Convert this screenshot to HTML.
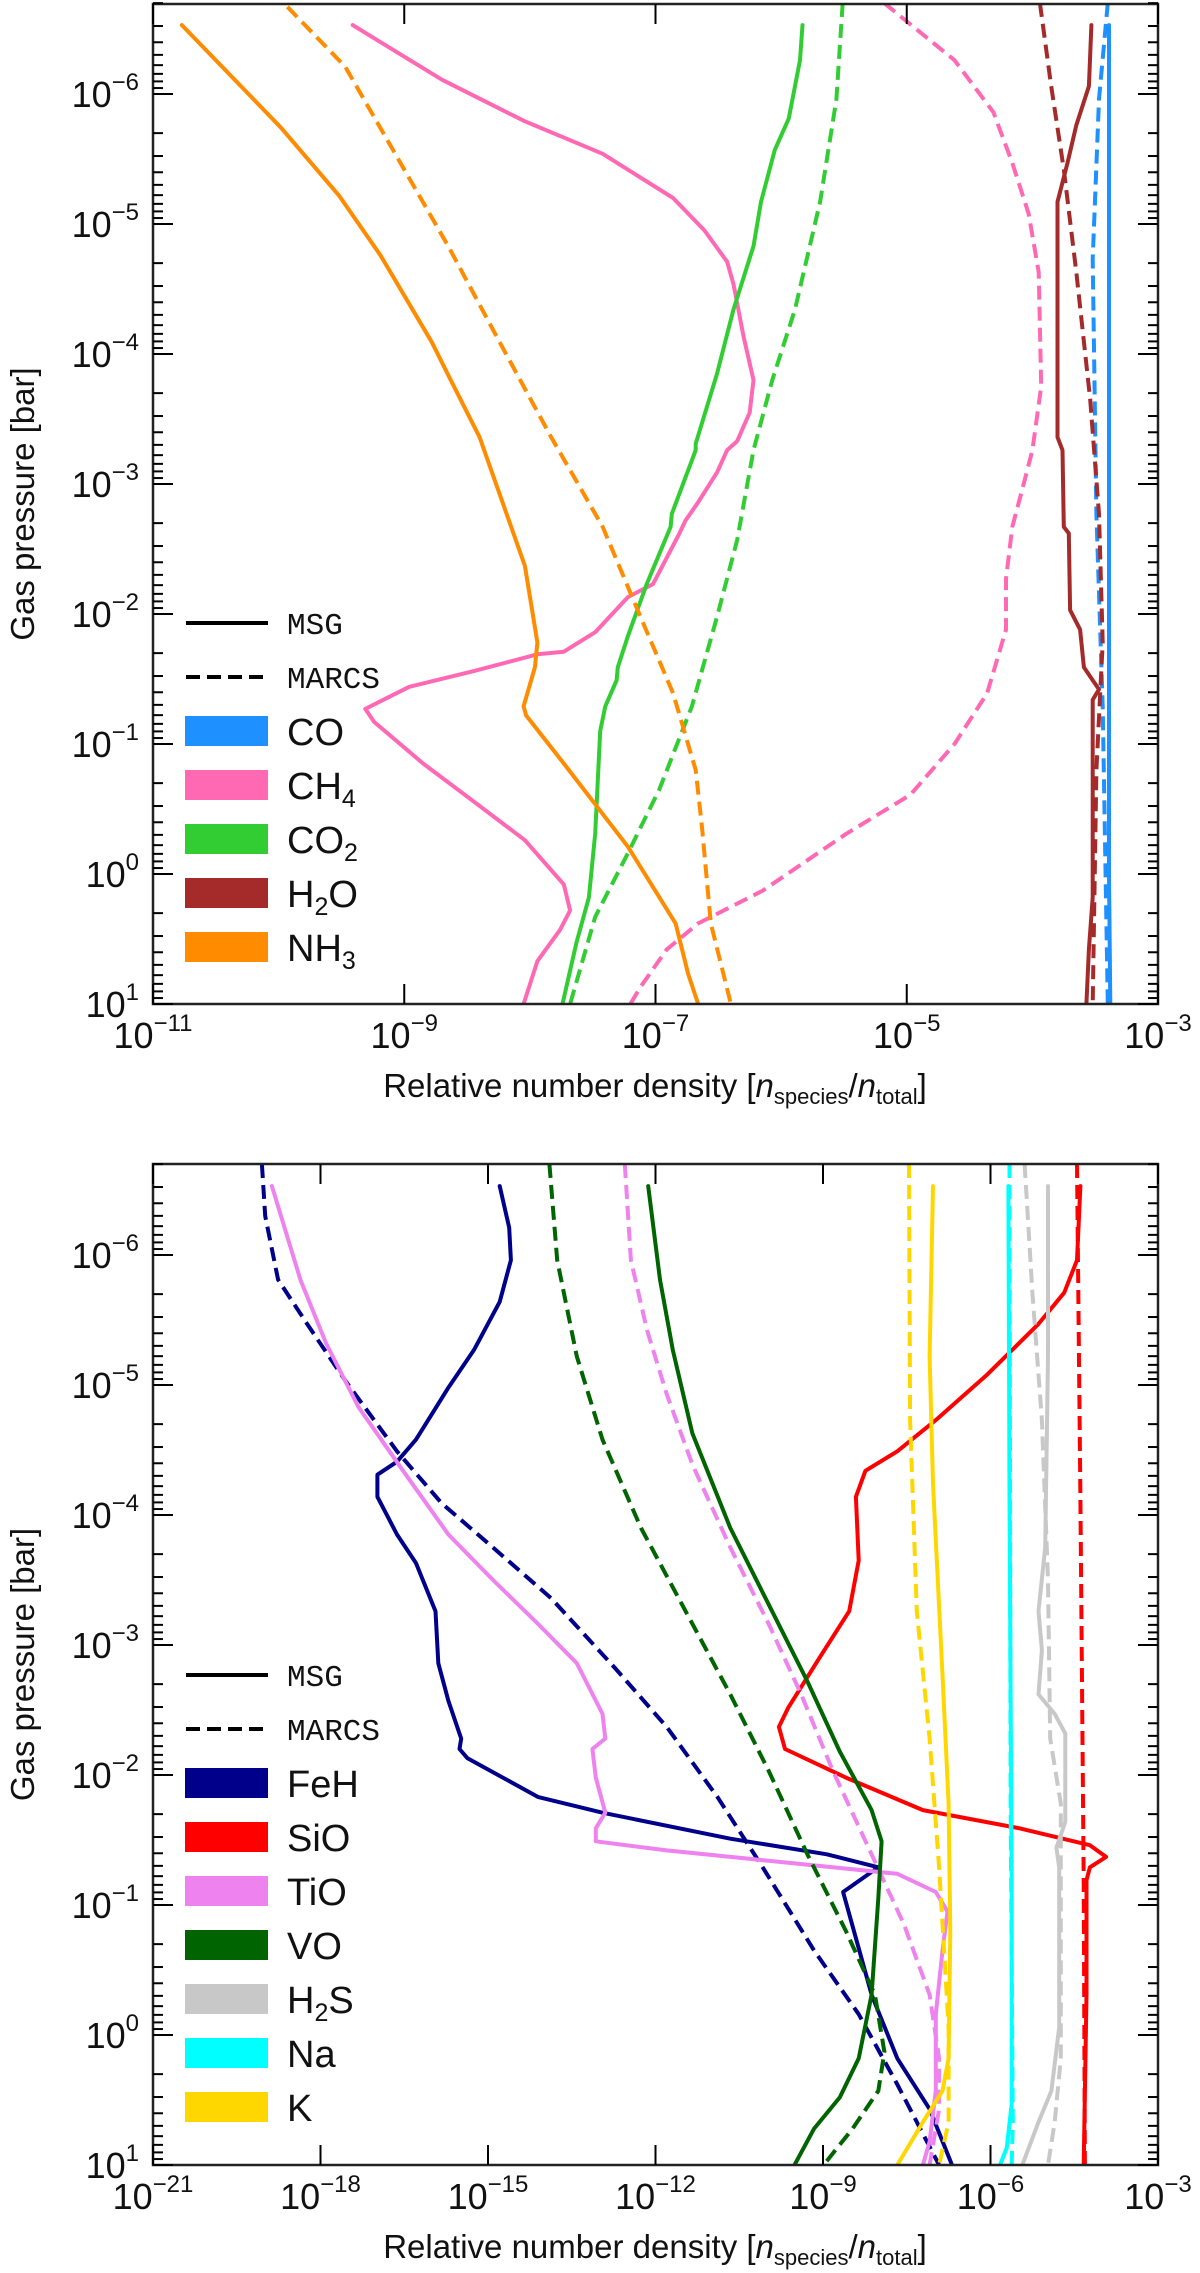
<!DOCTYPE html>
<html><head><meta charset="utf-8"><title>Relative number density profiles: MSG vs MARCS</title>
<style>
html,body{margin:0;padding:0;background:#fff;}
svg{display:block;font-family:"Liberation Sans",sans-serif;}
.tick{stroke:#000;stroke-width:2;}
.lbl{font-size:36px;fill:#111;}
.mono{font-family:"Liberation Mono",monospace;font-size:31px;fill:#111;}
</style></head>
<body>
<svg id="fig" width="1200" height="2273" viewBox="0 0 1200 2273" xmlns="http://www.w3.org/2000/svg"></svg>
<script>
// ===== Data (log10 relative number density, log10 gas pressure in bar) =====
// --- Top panel ---
const coMsgX=[-3.39,-3.39,-3.39,-3.38];
const coMsgP=[-6.53,-3,0,1];
const coMarcsX=[-3.40,-3.47,-3.52,-3.49,-3.44,-3.40];
const coMarcsP=[-6.7,-5.96,-4.73,-2.77,-1.29,1.0];
const ch4MsgX=[-9.41,-8.70,-8.04,-7.42,-6.86,-6.61,-6.43,-6.38,-6.30,-6.22,-6.25,-6.35,-6.43,-6.51,-6.66,-6.76,-6.81,-7.02,-7.22,-7.48,-7.73,-7.94,-8.45,-8.96,-9.31,-9.24,-8.85,-8.45,-8.04,-7.73,-7.68,-7.76,-7.94,-8.05];
const ch4MsgP=[-6.53,-6.11,-5.79,-5.54,-5.20,-4.95,-4.71,-4.54,-4.14,-3.80,-3.55,-3.33,-3.26,-3.09,-2.86,-2.72,-2.62,-2.23,-2.13,-1.86,-1.71,-1.69,-1.56,-1.44,-1.27,-1.17,-0.85,-0.56,-0.26,0.08,0.28,0.43,0.67,1.0];
const ch4MarcsX=[-5.18,-4.62,-4.31,-4.16,-4.03,-3.95,-3.93,-4.00,-4.08,-4.16,-4.21,-4.21,-4.36,-4.62,-4.97,-5.48,-6.15,-6.66,-6.91,-7.12,-7.20];
const ch4MarcsP=[-6.70,-6.26,-5.86,-5.47,-5.08,-4.63,-3.75,-3.26,-2.96,-2.67,-2.27,-1.88,-1.39,-1.00,-0.61,-0.31,0.13,0.38,0.58,0.87,1.0];
const co2MsgX=[-5.83,-5.85,-5.94,-6.05,-6.16,-6.22,-6.38,-6.51,-6.68,-6.68,-6.87,-6.88,-7.07,-7.22,-7.30,-7.31,-7.40,-7.44,-7.48,-7.53,-7.63,-7.74];
const co2MsgP=[-6.53,-6.26,-5.81,-5.57,-5.17,-4.83,-4.34,-3.85,-3.31,-3.26,-2.77,-2.67,-2.23,-1.83,-1.59,-1.49,-1.29,-1.10,-0.31,0.18,0.53,1.0];
const co2MarcsX=[-5.51,-5.56,-5.69,-5.89,-6.07,-6.22,-6.35,-6.51,-6.71,-6.97,-7.22,-7.48,-7.68];
const co2MarcsP=[-6.70,-5.96,-5.17,-4.34,-3.80,-3.26,-2.57,-1.98,-1.29,-0.65,-0.16,0.33,1.0];
const h2oMsgX=[-3.53,-3.55,-3.65,-3.72,-3.80,-3.80,-3.76,-3.75,-3.71,-3.70,-3.62,-3.59,-3.52,-3.47,-3.52,-3.52,-3.55,-3.57];
const h2oMsgP=[-6.53,-6.06,-5.76,-5.47,-5.17,-3.36,-3.26,-2.67,-2.62,-2.03,-1.88,-1.59,-1.49,-1.42,-1.34,0.18,0.58,1.0];
const h2oMarcsX=[-3.94,-3.85,-3.75,-3.65,-3.54,-3.47,-3.44,-3.49,-3.52];
const h2oMarcsP=[-6.70,-6.06,-5.42,-4.63,-3.65,-2.77,-1.78,-0.80,1.0];
const nh3MsgX=[-10.77,-9.98,-9.52,-9.19,-8.78,-8.63,-8.40,-8.04,-7.94,-7.96,-8.05,-8.03,-7.73,-7.22,-6.84,-6.74,-6.66];
const nh3MsgP=[-6.53,-5.74,-5.22,-4.76,-4.09,-3.80,-3.36,-2.37,-1.78,-1.59,-1.29,-1.22,-0.85,-0.21,0.38,0.77,1.0];
const nh3MarcsX=[-9.93,-9.47,-9.06,-8.65,-8.24,-7.83,-7.42,-7.12,-6.86,-6.68,-6.63,-6.56,-6.40];
const nh3MarcsP=[-6.67,-6.21,-5.52,-4.83,-4.09,-3.36,-2.67,-1.98,-1.39,-0.80,-0.36,0.38,1.0];
// --- Bottom panel ---
const fehMsgX=[-14.79,-14.62,-14.59,-14.79,-15.25,-15.71,-16.29,-16.63,-16.98,-16.98,-16.63,-16.29,-15.94,-15.89,-15.71,-15.48,-15.51,-15.37,-14.10,-12.95,-10.66,-8.93,-8.01,-8.64,-8.13,-7.67,-7.09,-6.69];
const fehMsgP=[-6.53,-6.21,-5.96,-5.64,-5.27,-4.98,-4.58,-4.41,-4.31,-4.14,-3.85,-3.63,-3.26,-2.86,-2.57,-2.28,-2.20,-2.13,-1.83,-1.71,-1.51,-1.39,-1.29,-1.10,-0.31,0.18,0.57,1.0];
const fehMarcsX=[-19.05,-18.99,-18.76,-18.24,-17.55,-16.63,-15.83,-14.91,-13.87,-12.72,-11.80,-10.89,-10.08,-9.16,-8.36,-7.67,-6.92];
const fehMarcsP=[-6.70,-6.30,-5.81,-5.47,-5.03,-4.49,-4.09,-3.75,-3.36,-2.82,-2.37,-1.83,-1.29,-0.65,-0.16,0.38,1.0];
const sioMsgX=[-4.39,-4.45,-4.68,-5.14,-6.06,-6.98,-7.67,-8.24,-8.41,-8.36,-8.53,-9.05,-9.62,-9.79,-9.68,-8.59,-7.21,-5.48,-4.22,-3.93,-4.22,-4.28,-4.28,-4.33];
const sioMsgP=[-6.53,-5.96,-5.71,-5.47,-5.08,-4.73,-4.49,-4.34,-4.14,-3.65,-3.26,-2.91,-2.52,-2.37,-2.20,-1.98,-1.73,-1.59,-1.46,-1.37,-1.29,-1.19,-0.31,1.0];
const sioMarcsX=[-4.45,-4.39,-4.33,-4.31];
const sioMarcsP=[-6.70,-4.14,-1.19,1.0];
const tioMsgX=[-18.87,-18.36,-17.90,-17.32,-16.52,-15.71,-14.91,-14.10,-13.41,-12.95,-12.90,-13.13,-13.07,-12.90,-13.07,-13.07,-11.80,-9.51,-7.67,-6.98,-6.77,-6.86,-6.98,-6.98,-7.09,-7.21];
const tioMsgP=[-6.53,-5.81,-5.32,-4.83,-4.34,-3.85,-3.50,-3.16,-2.86,-2.47,-2.28,-2.20,-1.98,-1.71,-1.59,-1.49,-1.42,-1.32,-1.24,-1.10,-0.95,-0.65,-0.16,0.43,0.82,1.0];
const tioMarcsX=[-12.55,-12.44,-12.15,-11.80,-11.34,-10.66,-9.97,-9.39,-8.82,-8.13,-7.55,-7.09,-6.92,-6.92,-7.09];
const tioMarcsP=[-6.70,-5.96,-5.42,-4.93,-4.39,-3.75,-3.16,-2.62,-2.03,-1.39,-0.85,-0.31,0.18,0.57,1.0];
const voMsgX=[-12.13,-11.92,-11.69,-11.34,-10.66,-9.97,-9.28,-8.70,-8.13,-7.95,-8.01,-8.13,-8.36,-8.70,-9.16,-9.51];
const voMsgP=[-6.53,-5.81,-5.27,-4.63,-3.90,-3.31,-2.72,-2.18,-1.73,-1.49,-1.05,-0.31,0.18,0.48,0.72,1.0];
const voMarcsX=[-13.90,-13.76,-13.41,-12.95,-12.26,-11.46,-10.66,-9.97,-9.28,-8.59,-8.07,-7.90,-8.01,-8.47,-8.99];
const voMarcsP=[-6.70,-5.96,-5.22,-4.58,-3.90,-3.26,-2.62,-2.03,-1.39,-0.80,-0.31,0.13,0.43,0.72,1.0];
const h2sMsgX=[-4.97,-4.97,-5.02,-5.14,-5.08,-5.14,-4.85,-4.66,-4.66,-4.82,-4.77,-4.77,-4.91,-5.14,-5.43];
const h2sMsgP=[-6.53,-5.22,-3.75,-3.26,-2.96,-2.62,-2.47,-2.32,-1.64,-1.44,-1.29,-0.06,0.43,0.67,1.0];
const h2sMarcsX=[-5.39,-5.25,-5.08,-4.97,-4.93,-4.74,-4.74,-4.85,-4.97];
const h2sMarcsP=[-6.70,-5.71,-4.73,-3.50,-2.28,-1.78,0.18,0.67,1.0];
const naMsgX=[-5.68,-5.66,-5.62,-5.62,-5.71,-5.83];
const naMsgP=[-6.53,-4.14,-1.19,0.53,0.87,1.0];
const naMarcsX=[-5.66,-5.64,-5.60,-5.62];
const naMarcsP=[-6.70,-1.78,0.67,1.0];
const kMsgX=[-7.03,-7.09,-7.03,-6.86,-6.75,-6.72,-6.75,-6.86,-7.21,-7.67];
const kMsgP=[-6.53,-5.22,-4.24,-2.77,-1.78,-0.80,0.18,0.43,0.67,1.0];
const kMarcsX=[-7.46,-7.44,-7.32,-7.09,-6.92,-6.75,-6.75,-6.92];
const kMarcsP=[-6.70,-4.73,-3.26,-2.28,-1.29,-0.06,0.67,1.0];
// Axis tick labels (exponents)
const topXTicks=[-11,-9,-7,-5,-3];
const botXTicks=[-21,-18,-15,-12,-9,-6,-3];
const yTicks=[-6,-5,-4,-3,-2,-1,0,1];

const NS="http://www.w3.org/2000/svg";
const svg=document.getElementById('fig');
function mk(tag,attrs,parent){const e=document.createElementNS(NS,tag);for(const k in attrs)e.setAttribute(k,attrs[k]);(parent||svg).appendChild(e);return e;}

function panel(cfg){
  const g=mk('g',{});
  
  
  const X=v=>cfg.x0+(v-cfg.xmin)/(cfg.xmax-cfg.xmin)*(cfg.x1-cfg.x0);
  const Y=p=>cfg.y1-(1-p)*130;
  const cid='clip'+cfg.id;
  const cp=mk('clipPath',{id:cid},g);
  mk('rect',{x:cfg.x0,y:cfg.y0,width:cfg.x1-cfg.x0,height:cfg.y1-cfg.y0},cp);
  const lines=mk('g',{'clip-path':'url(#'+cid+')'},g);
  cfg.series.forEach(s=>{
    const d=s.x.map((v,i)=>(i?'L':'M')+X(v).toFixed(1)+' '+Y(s.p[i]).toFixed(1)).join(' ');
    const path=mk('path',{d:d,fill:'none',stroke:s.color,'stroke-width':4,'stroke-linejoin':'round','stroke-linecap':s.dash?'butt':'round'},lines);
    if(s.dash)path.setAttribute('stroke-dasharray','14 7');
    
    
  });
  const fr=mk('rect',{x:cfg.x0,y:cfg.y0,width:cfg.x1-cfg.x0,height:cfg.y1-cfg.y0,fill:'none',stroke:'#222','stroke-width':2.5},g);
  
  
  const yt=mk('g',{},g);
  
  
  for(let dcd=-7;dcd<=1;dcd++){
    for(let m=1;m<10;m++){
      const p=dcd+Math.log10(m);
      if(p<cfg.pTop||p>1.0001)continue;
      if(m>1&&dcd===1)continue;
      const y=Y(p), L=m===1?20:10;
      mk('line',{x1:cfg.x0,x2:cfg.x0+L,y1:y,y2:y,class:'tick'},yt);
      mk('line',{x1:cfg.x1,x2:cfg.x1-L,y1:y,y2:y,class:'tick'},yt);
    }
  }
  yTicks.forEach(t=>{
    const tx=mk('text',{x:cfg.x0-14,y:Y(t)+13,'text-anchor':'end',class:'lbl'},g);
    
    
    tx.appendChild(document.createTextNode('10'));
    const sp=mk('tspan',{dy:-17,'font-size':24},tx);
    sp.textContent=(t<0?'\u2212':'')+Math.abs(t);
  });
  cfg.xTicks.forEach(t=>{
    const x=X(t);
    mk('line',{x1:x,x2:x,y1:cfg.y1,y2:cfg.y1-20,class:'tick'},g);
    mk('line',{x1:x,x2:x,y1:cfg.y0,y2:cfg.y0+20,class:'tick'},g);
    const tx=mk('text',{x:x,y:cfg.y1+44,'text-anchor':'middle',class:'lbl'},g);
    
    
    tx.appendChild(document.createTextNode('10'));
    const sp=mk('tspan',{dy:-17,'font-size':24},tx);
    sp.textContent=(t<0?'\u2212':'')+Math.abs(t);
  });
  const xt=mk('text',{x:655,y:cfg.y1+93,'text-anchor':'middle','font-size':33,fill:'#111'},g);
  
  
  xt.innerHTML='Relative number density [<tspan font-style="italic">n</tspan><tspan font-size="22" dy="7">species</tspan><tspan dy="-7">/</tspan><tspan font-style="italic">n</tspan><tspan font-size="22" dy="7">total</tspan><tspan dy="-7">]</tspan>';
  const yc=(cfg.y0+cfg.y1)/2;
  const ytl=mk('text',{x:0,y:0,transform:'translate(34,'+yc+') rotate(-90)','text-anchor':'middle','font-size':33,fill:'#111'},g);
  
  
  ytl.textContent='Gas pressure [bar]';
  const lg=mk('g',{},g);
  
  
  let ly=cfg.legY;
  [['MSG',false],['MARCS',true]].forEach(([t,d])=>{
    const e=mk('g',{},lg);
    
    
    const l=mk('line',{x1:186,x2:268,y1:ly,y2:ly,stroke:'#000','stroke-width':4},e);
    if(d)l.setAttribute('stroke-dasharray','14 7');
    const tx=mk('text',{x:287,y:ly+11,class:'mono'},e);
    tx.textContent=t;
    ly+=54;
  });
  cfg.legend.forEach(([lab,col,sub,after])=>{
    const e=mk('g',{},lg);
    
    
    mk('rect',{x:185,y:ly-15,width:83,height:30,fill:col},e);
    const tx=mk('text',{x:287,y:ly+14,'font-size':38,fill:'#111'},e);
    tx.appendChild(document.createTextNode(lab));
    if(sub){
      const s=mk('tspan',{'font-size':25,dy:8},tx);s.textContent=sub;
      if(after){const r=mk('tspan',{dy:-8},tx);r.textContent=after;}
    }
    ly+=54;
  });
}

panel({id:'top',name:'top-panel-molecules',x0:153,x1:1158,y0:4,y1:1004,xmin:-11,xmax:-3,pTop:-6.7,xTicks:topXTicks,legY:623,
 series:[
  {name:'co-msg',x:coMsgX,p:coMsgP,color:'#1e90ff'},
  {name:'co-marcs',x:coMarcsX,p:coMarcsP,color:'#1e90ff',dash:1},
  {name:'ch4-msg',x:ch4MsgX,p:ch4MsgP,color:'#ff69b4'},
  {name:'ch4-marcs',x:ch4MarcsX,p:ch4MarcsP,color:'#ff69b4',dash:1},
  {name:'co2-msg',x:co2MsgX,p:co2MsgP,color:'#32cd32'},
  {name:'co2-marcs',x:co2MarcsX,p:co2MarcsP,color:'#32cd32',dash:1},
  {name:'h2o-msg',x:h2oMsgX,p:h2oMsgP,color:'#a52a2a'},
  {name:'h2o-marcs',x:h2oMarcsX,p:h2oMarcsP,color:'#a52a2a',dash:1},
  {name:'nh3-msg',x:nh3MsgX,p:nh3MsgP,color:'#ff8c00'},
  {name:'nh3-marcs',x:nh3MarcsX,p:nh3MarcsP,color:'#ff8c00',dash:1}],
 legend:[['CO','#1e90ff'],['CH','#ff69b4','4'],['CO','#32cd32','2'],['H','#a52a2a','2','O'],['NH','#ff8c00','3']]});

panel({id:'bot',name:'bottom-panel-metal-species',x0:153,x1:1158,y0:1164,y1:2165,xmin:-21,xmax:-3,pTop:-6.7,xTicks:botXTicks,legY:1675,
 series:[
  {name:'feh-msg',x:fehMsgX,p:fehMsgP,color:'#00008b'},
  {name:'feh-marcs',x:fehMarcsX,p:fehMarcsP,color:'#00008b',dash:1},
  {name:'sio-msg',x:sioMsgX,p:sioMsgP,color:'#ff0000'},
  {name:'sio-marcs',x:sioMarcsX,p:sioMarcsP,color:'#ff0000',dash:1},
  {name:'tio-msg',x:tioMsgX,p:tioMsgP,color:'#ee82ee'},
  {name:'tio-marcs',x:tioMarcsX,p:tioMarcsP,color:'#ee82ee',dash:1},
  {name:'vo-msg',x:voMsgX,p:voMsgP,color:'#006400'},
  {name:'vo-marcs',x:voMarcsX,p:voMarcsP,color:'#006400',dash:1},
  {name:'h2s-msg',x:h2sMsgX,p:h2sMsgP,color:'#c8c8c8'},
  {name:'h2s-marcs',x:h2sMarcsX,p:h2sMarcsP,color:'#c8c8c8',dash:1},
  {name:'na-msg',x:naMsgX,p:naMsgP,color:'#00ffff'},
  {name:'na-marcs',x:naMarcsX,p:naMarcsP,color:'#00ffff',dash:1},
  {name:'k-msg',x:kMsgX,p:kMsgP,color:'#ffd700'},
  {name:'k-marcs',x:kMarcsX,p:kMarcsP,color:'#ffd700',dash:1}],
 legend:[['FeH','#00008b'],['SiO','#ff0000'],['TiO','#ee82ee'],['VO','#006400'],['H','#c8c8c8','2','S'],['Na','#00ffff'],['K','#ffd700']]});
</script>
</body></html>
